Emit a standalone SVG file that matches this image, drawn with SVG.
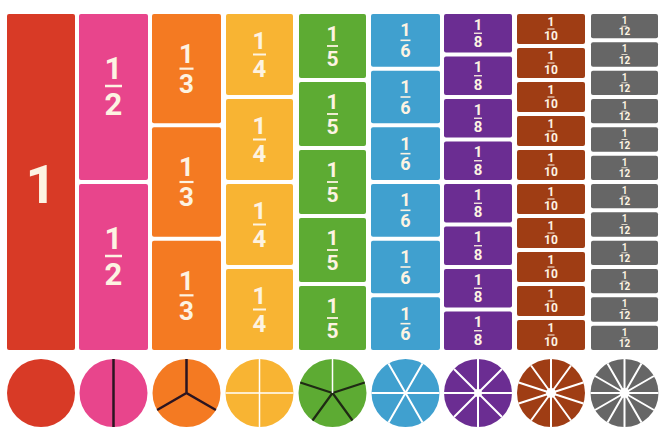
<svg xmlns="http://www.w3.org/2000/svg" width="660" height="439" viewBox="0 0 660 439">
<style>
text{font-family:Roboto,"DejaVu Sans",sans-serif;font-weight:700;fill:#fdf3e2;text-anchor:middle}
.bar{fill:#fdf3e2}
.red{fill:#d83a26}.pink{fill:#e8458c}.orange{fill:#f47a22}.yellow{fill:#f8b433}.green{fill:#5dab33}.blue{fill:#40a0cf}.purple{fill:#6b2d92}.brown{fill:#9f3d14}.gray{fill:#666666}
.f2{font-size:31px}.f3{font-size:26px}.f4{font-size:24px}.f5{font-size:21px}.f6{font-size:18px}.f8{font-size:15px}.f10{font-size:12px}.f12{font-size:10px}
.dk{stroke:#2b1420;stroke-width:2.5;fill:none}
.dkg{stroke:#1f2a14;stroke-width:2.2;fill:none}
.wl{stroke:#ffffff;stroke-width:2;fill:none}
.wt{stroke:#ffffff;stroke-width:1.5;fill:none}
</style>
<defs>
<rect id="r2" width="69" height="166" rx="2"/>
<rect id="r3" width="69" height="109.33" rx="2"/>
<rect id="r4" width="67" height="81" rx="2"/>
<rect id="r5" width="67" height="64" rx="2"/>
<rect id="r6" width="69" height="52.67" rx="2"/>
<rect id="r8" width="68" height="38.5" rx="2"/>
<rect id="r10" width="68" height="30" rx="2"/>
<rect id="r12" width="67" height="24.33" rx="2"/>
<g id="t2"><text class="f2" x="34.5" y="65.2">1</text><rect class="bar" x="26" y="70.75" width="17" height="2.5"/><text class="f2" x="34.5" y="100.8">2</text></g>
<g id="t3"><text class="f3" x="34.5" y="48.97">1</text><rect class="bar" x="27.5" y="53.57" width="14" height="2.2"/><text class="f3" x="34.5" y="78.87">3</text></g>
<g id="t4"><text class="f4" x="33.5" y="35.2">1</text><rect class="bar" x="27" y="39.5" width="13" height="2"/><text class="f4" x="33.5" y="62.8">4</text></g>
<g id="t5"><text class="f5" x="33.5" y="27.4">1</text><rect class="bar" x="28" y="31.1" width="11" height="1.8"/><text class="f5" x="33.5" y="51.5">5</text></g>
<g id="t6"><text class="f6" x="34.5" y="22.33">1</text><rect class="bar" x="29.5" y="25.53" width="10" height="1.6"/><text class="f6" x="34.5" y="43.03">6</text></g>
<g id="t8"><text class="f8" x="34" y="15.95">1</text><rect class="bar" x="30" y="18.6" width="8" height="1.3"/><text class="f8" x="34" y="33.25">8</text></g>
<g id="t10"><text class="f10" x="34" y="12.4">1</text><rect class="bar" x="30.5" y="14.5" width="7" height="1"/><text class="f10" x="34" y="26.2">10</text></g>
<g id="t12"><text class="f12" x="33.5" y="9.97">1</text><rect class="bar" x="30.5" y="11.77" width="6" height="0.8"/><text class="f12" x="33.5" y="21.47">12</text></g>
</defs>
<rect width="660" height="439" fill="#ffffff"/>

<g id="whole"><rect class="red" x="7" y="14" width="68" height="336" rx="2"/><text x="41" y="203" style="font-size:54px">1</text></g>

<g id="half-1" transform="translate(79,14)"><use href="#r2" class="pink"/><use href="#t2"/></g>
<g id="half-2" transform="translate(79,184)"><use href="#r2" class="pink"/><use href="#t2"/></g>

<g id="third-1" transform="translate(152,14)"><use href="#r3" class="orange"/><use href="#t3"/></g>
<g id="third-2" transform="translate(152,127.33)"><use href="#r3" class="orange"/><use href="#t3"/></g>
<g id="third-3" transform="translate(152,240.67)"><use href="#r3" class="orange"/><use href="#t3"/></g>

<g id="quarter-1" transform="translate(226,14)"><use href="#r4" class="yellow"/><use href="#t4"/></g>
<g id="quarter-2" transform="translate(226,99)"><use href="#r4" class="yellow"/><use href="#t4"/></g>
<g id="quarter-3" transform="translate(226,184)"><use href="#r4" class="yellow"/><use href="#t4"/></g>
<g id="quarter-4" transform="translate(226,269)"><use href="#r4" class="yellow"/><use href="#t4"/></g>

<g id="fifth-1" transform="translate(299,14)"><use href="#r5" class="green"/><use href="#t5"/></g>
<g id="fifth-2" transform="translate(299,82)"><use href="#r5" class="green"/><use href="#t5"/></g>
<g id="fifth-3" transform="translate(299,150)"><use href="#r5" class="green"/><use href="#t5"/></g>
<g id="fifth-4" transform="translate(299,218)"><use href="#r5" class="green"/><use href="#t5"/></g>
<g id="fifth-5" transform="translate(299,286)"><use href="#r5" class="green"/><use href="#t5"/></g>

<g id="sixth-1" transform="translate(371,14)"><use href="#r6" class="blue"/><use href="#t6"/></g>
<g id="sixth-2" transform="translate(371,70.67)"><use href="#r6" class="blue"/><use href="#t6"/></g>
<g id="sixth-3" transform="translate(371,127.33)"><use href="#r6" class="blue"/><use href="#t6"/></g>
<g id="sixth-4" transform="translate(371,184)"><use href="#r6" class="blue"/><use href="#t6"/></g>
<g id="sixth-5" transform="translate(371,240.67)"><use href="#r6" class="blue"/><use href="#t6"/></g>
<g id="sixth-6" transform="translate(371,297.33)"><use href="#r6" class="blue"/><use href="#t6"/></g>

<g id="eighth-1" transform="translate(444,14)"><use href="#r8" class="purple"/><use href="#t8"/></g>
<g id="eighth-2" transform="translate(444,56.5)"><use href="#r8" class="purple"/><use href="#t8"/></g>
<g id="eighth-3" transform="translate(444,99)"><use href="#r8" class="purple"/><use href="#t8"/></g>
<g id="eighth-4" transform="translate(444,141.5)"><use href="#r8" class="purple"/><use href="#t8"/></g>
<g id="eighth-5" transform="translate(444,184)"><use href="#r8" class="purple"/><use href="#t8"/></g>
<g id="eighth-6" transform="translate(444,226.5)"><use href="#r8" class="purple"/><use href="#t8"/></g>
<g id="eighth-7" transform="translate(444,269)"><use href="#r8" class="purple"/><use href="#t8"/></g>
<g id="eighth-8" transform="translate(444,311.5)"><use href="#r8" class="purple"/><use href="#t8"/></g>

<g id="tenth-1" transform="translate(517,14)"><use href="#r10" class="brown"/><use href="#t10"/></g>
<g id="tenth-2" transform="translate(517,48)"><use href="#r10" class="brown"/><use href="#t10"/></g>
<g id="tenth-3" transform="translate(517,82)"><use href="#r10" class="brown"/><use href="#t10"/></g>
<g id="tenth-4" transform="translate(517,116)"><use href="#r10" class="brown"/><use href="#t10"/></g>
<g id="tenth-5" transform="translate(517,150)"><use href="#r10" class="brown"/><use href="#t10"/></g>
<g id="tenth-6" transform="translate(517,184)"><use href="#r10" class="brown"/><use href="#t10"/></g>
<g id="tenth-7" transform="translate(517,218)"><use href="#r10" class="brown"/><use href="#t10"/></g>
<g id="tenth-8" transform="translate(517,252)"><use href="#r10" class="brown"/><use href="#t10"/></g>
<g id="tenth-9" transform="translate(517,286)"><use href="#r10" class="brown"/><use href="#t10"/></g>
<g id="tenth-10" transform="translate(517,320)"><use href="#r10" class="brown"/><use href="#t10"/></g>

<g id="twelfth-1" transform="translate(591,14)"><use href="#r12" class="gray"/><use href="#t12"/></g>
<g id="twelfth-2" transform="translate(591,42.33)"><use href="#r12" class="gray"/><use href="#t12"/></g>
<g id="twelfth-3" transform="translate(591,70.67)"><use href="#r12" class="gray"/><use href="#t12"/></g>
<g id="twelfth-4" transform="translate(591,99)"><use href="#r12" class="gray"/><use href="#t12"/></g>
<g id="twelfth-5" transform="translate(591,127.33)"><use href="#r12" class="gray"/><use href="#t12"/></g>
<g id="twelfth-6" transform="translate(591,155.67)"><use href="#r12" class="gray"/><use href="#t12"/></g>
<g id="twelfth-7" transform="translate(591,184)"><use href="#r12" class="gray"/><use href="#t12"/></g>
<g id="twelfth-8" transform="translate(591,212.33)"><use href="#r12" class="gray"/><use href="#t12"/></g>
<g id="twelfth-9" transform="translate(591,240.67)"><use href="#r12" class="gray"/><use href="#t12"/></g>
<g id="twelfth-10" transform="translate(591,269)"><use href="#r12" class="gray"/><use href="#t12"/></g>
<g id="twelfth-11" transform="translate(591,297.33)"><use href="#r12" class="gray"/><use href="#t12"/></g>
<g id="twelfth-12" transform="translate(591,325.67)"><use href="#r12" class="gray"/><use href="#t12"/></g>

<g id="circle-1"><circle class="red" cx="41" cy="393" r="34"/></g>
<g id="circle-2"><circle class="pink" cx="113.5" cy="393" r="34"/><line class="dk" x1="113.5" y1="359" x2="113.5" y2="427"/></g>
<g id="circle-3"><circle class="orange" cx="186.5" cy="393" r="34"/><path class="dk" d="M186.5 359V393L215.9 410M186.5 393L157.1 410"/></g>
<g id="circle-4"><circle class="yellow" cx="259.5" cy="393" r="34"/><path class="wt" d="M225.5 393H293.5M259.5 359V427"/></g>
<g id="circle-5"><circle class="green" cx="332.5" cy="393" r="34"/><path class="dkg" d="M332.5 393L364.8 382.5M332.5 393L352.5 420.5M332.5 393L312.5 420.5M332.5 393L300.2 382.5"/><line class="wt" x1="332.5" y1="359" x2="332.5" y2="393"/></g>
<g id="circle-6"><circle class="blue" cx="405.5" cy="393" r="34"/><path class="wl" d="M371.5 393H439.5M388.5 363.56L422.5 422.44M422.5 363.56L388.5 422.44"/></g>
<g id="circle-8"><circle class="purple" cx="478" cy="393" r="34"/><path class="wl" d="M444 393H512M478 359V427M453.96 368.96L502.04 417.04M502.04 368.96L453.96 417.04"/><circle cx="478" cy="393" r="4" fill="#ffffff"/></g>
<g id="circle-10"><circle class="brown" cx="551" cy="393" r="34"/><path class="wl" d="M583.34 403.51L518.66 382.49M570.98 420.51L531.02 365.49M551 427V359M531.02 420.51L570.98 365.49M518.66 403.51L583.34 382.49"/><circle cx="551" cy="393" r="5" fill="#ffffff"/></g>
<g id="circle-12"><circle class="gray" cx="624.5" cy="393" r="34"/><path class="wl" d="M590.5 393H658.5M653.94 410L595.06 376M641.5 422.44L607.5 363.56M624.5 427V359M607.5 422.44L641.5 363.56M595.06 410L653.94 376"/><circle cx="624.5" cy="393" r="5" fill="#ffffff"/></g>
</svg>
